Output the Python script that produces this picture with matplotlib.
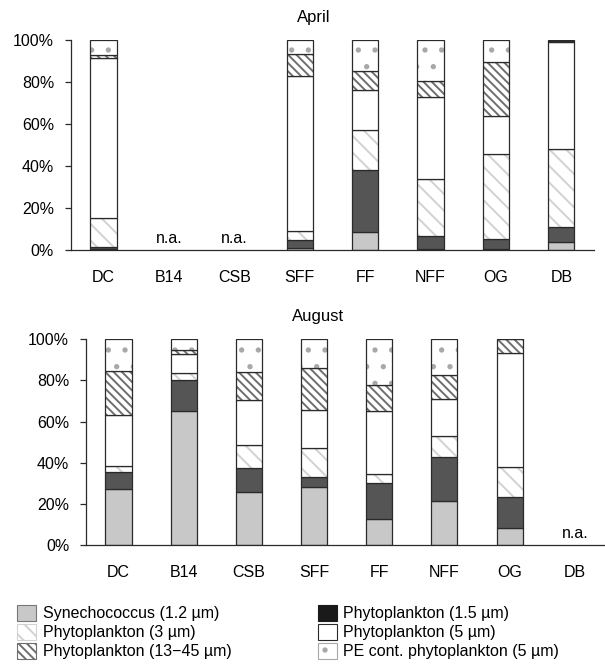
import numpy as np
import matplotlib
matplotlib.use('Agg')
import matplotlib.pyplot as plt
from matplotlib.patches import Patch

plt.rcParams['font.family'] = ['Liberation Sans', 'DejaVu Sans']
plt.rcParams['hatch.linewidth'] = 1.4

nan = np.nan
stations = ['DC', 'B14', 'CSB', 'SFF', 'FF', 'NFF', 'OG', 'DB']

# April, % of total per size class (n.a. = nan)
april_syn = [0.5, nan, nan, 1.1, 8.9, 0.8, 0.8, 3.7]
april_p15 = [1.2, nan, nan, 3.7, 29.1, 6.2, 4.4, 7.3]
april_p3 = [13.4, nan, nan, 4.3, 19.2, 26.9, 40.6, 37.2]
april_p5 = [76.3, nan, nan, 73.7, 19.0, 38.8, 18.3, 50.8]
april_p13 = [1.4, nan, nan, 10.5, 9.0, 7.9, 25.4, 0.5]
april_pe = [7.2, nan, nan, 6.7, 14.8, 19.4, 10.5, 0.5]

# August
aug_syn = [27.2, 65.0, 25.9, 28.1, 12.5, 21.4, 8.4, nan]
aug_p15 = [8.2, 15.4, 11.7, 4.9, 17.7, 21.4, 14.9, nan]
aug_p3 = [3.0, 3.4, 11.1, 14.4, 4.2, 10.1, 14.8, nan]
aug_p5 = [24.6, 9.0, 21.7, 18.4, 30.6, 18.3, 55.3, nan]
aug_p13 = [21.7, 1.9, 13.8, 20.2, 12.8, 11.3, 6.6, nan]
aug_pe = [15.3, 5.3, 15.8, 14.0, 22.2, 17.5, 0.0, nan]

labels = ['Synechococcus (1.2 \u00b5m)', 'Phytoplankton (1.5 \u00b5m)',
          'Phytoplankton (3 \u00b5m)', 'Phytoplankton (5 \u00b5m)',
          'Phytoplankton (13\u221245 \u00b5m)', 'PE cont. phytoplankton (5 \u00b5m)']

# face, hatch, hatch colour
styles = [('#c8c8c8', '', '#c8c8c8'),
          ('#555555', '', '#555555'),
          ('white', '\\\\', '#d2d2d2'),
          ('white', '', 'white'),
          ('white', '\\\\\\\\', '#6e6e6e'),
          ('white', '.', '#a8a8a8')]

FS = 11.5
EDGE = '#2a2a2a'


def draw(ax, series, title, tx):
    x = np.arange(len(stations))
    data = np.array(series, dtype=float)
    ok = ~np.isnan(data[0])
    bottom = np.zeros(len(stations))
    for vals, (fc, h, hc) in zip(data, styles):
        v = np.where(ok, vals, 0)
        ax.bar(x[ok], v[ok], 0.4, bottom=bottom[ok], color=fc, hatch=h,
               edgecolor=hc, linewidth=0)
        ax.bar(x[ok], v[ok], 0.4, bottom=bottom[ok], fill=False,
               edgecolor=EDGE, linewidth=0.9)
        bottom = bottom + v
    for i in np.where(~ok)[0]:
        ax.text(i, 2, 'n.a.', ha='center', va='bottom', fontsize=FS)
    ax.set_xlim(-0.5, 7.5)
    ax.set_ylim(0, 100)
    ax.set_xticks(x)
    ax.set_xticklabels(stations, fontsize=FS)
    ax.set_yticks(np.arange(0, 101, 20))
    ax.set_yticklabels(['{}%'.format(t) for t in range(0, 101, 20)], fontsize=FS)
    ax.tick_params(axis='x', length=0, pad=14)
    ax.tick_params(axis='y', length=4, width=0.9, pad=8, color=EDGE)
    for s in ['top', 'right']:
        ax.spines[s].set_visible(False)
    for s in ['left', 'bottom']:
        ax.spines[s].set_color(EDGE)
        ax.spines[s].set_linewidth(0.9)
    t = ax.set_title(title, fontsize=FS + 0.5, pad=13)
    t.set_x(tx)


fig = plt.figure(figsize=(6.05, 6.69), dpi=100)
ax1 = fig.add_axes([0.117, 0.626, 0.865, 0.314])
ax2 = fig.add_axes([0.142, 0.185, 0.862, 0.308])

draw(ax1, [april_syn, april_p15, april_p3, april_p5, april_p13, april_pe], 'April', 0.465)
draw(ax2, [aug_syn, aug_p15, aug_p3, aug_p5, aug_p13, aug_pe], 'August', 0.445)

handles = []
for fc, h, hc in styles:
    handles.append(Patch(facecolor=fc, hatch=h, edgecolor=hc, linewidth=0.8))
handles[0] = Patch(facecolor='#c8c8c8', edgecolor='#777777', linewidth=0.8)
handles[1] = Patch(facecolor='#1a1a1a', edgecolor='#1a1a1a', linewidth=0.8)
handles[3] = Patch(facecolor='white', edgecolor=EDGE, linewidth=0.8)
order = [0, 2, 4, 1, 3, 5]
fig.legend([handles[i] for i in order], [labels[i] for i in order],
           loc='lower left', bbox_to_anchor=(0.01, -0.002), ncol=2, frameon=False,
           fontsize=FS, handlelength=1.2, handleheight=1.2, handletextpad=0.4,
           labelspacing=0.15, columnspacing=5.4, borderpad=0.2)

fig.savefig('out.png', dpi=100)
